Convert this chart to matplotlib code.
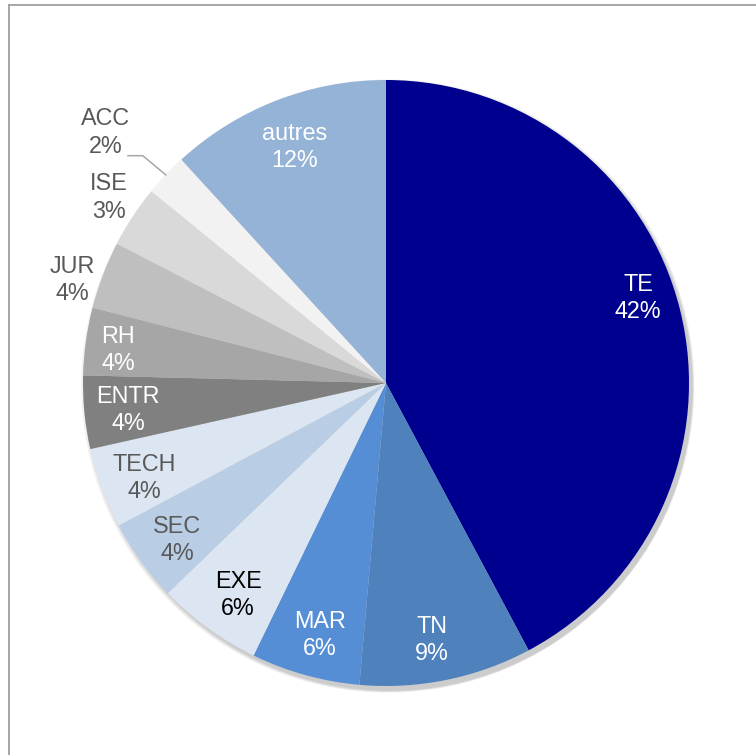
import numpy as np
import matplotlib
matplotlib.use("Agg")
import matplotlib.pyplot as plt
from matplotlib.lines import Line2D
from matplotlib.patches import Circle

# share of each category (clockwise from 12 o'clock)
categories = ["TE", "TN", "MAR", "EXE", "SEC", "TECH", "ENTR", "RH", "JUR", "ISE", "ACC", "autres"]
shares = [42.2, 9.2, 5.8, 5.6, 4.4, 4.3, 3.9, 3.6, 3.6, 3.3, 2.3, 11.8]

colors = ["#00008E", "#4F81BD", "#558ED5", "#DCE6F2", "#B9CDE5", "#DCE6F2",
          "#808080", "#A6A6A6", "#BFBFBF", "#D9D9D9", "#F2F2F2", "#95B3D7"]
text_colors = ["white", "white", "white", "black", "#595959", "#595959",
               "white", "white", "#595959", "#595959", "#595959", "white"]
# label placement: radial distance and small angle nudge (degrees)
label_r = [0.878, 0.862, 0.86, 0.853, 0.862, 0.858, 0.855, 0.89, 1.09, 1.10, 1.24, 0.835]
label_dang = [-4.6, 1.4, -0.8, -1.1, -0.9, -1.1, -0.4, -0.9, -2.7, 0.5, -1.6, 0.1]

plt.rcParams['font.family'] = ['Liberation Sans', 'DejaVu Sans']

W, H = 756, 755
fig = plt.figure(figsize=(W / 100, H / 100), dpi=100)
ax = fig.add_axes([0, 0, 1, 1])

# soft shadow behind the pie
for k, a in enumerate([0.05, 0.05, 0.05, 0.06]):
    ax.add_patch(Circle((0.006 + 0.002 * k, -0.010 - 0.002 * k), 1.0 + 0.004 * (3 - k),
                        color="black", alpha=a, lw=0, zorder=0))

wedges, _ = ax.pie(shares, colors=colors, startangle=90, counterclock=False,
                   radius=1.0, wedgeprops=dict(linewidth=0))
for w in wedges:
    w.set_zorder(2)

cum = np.cumsum([0] + shares[:-1])
for i, (cat, v) in enumerate(zip(categories, shares)):
    mid = (cum[i] + v / 2) * 3.6
    t = np.deg2rad(mid + label_dang[i])
    x, y = label_r[i] * np.sin(t), label_r[i] * np.cos(t)
    ax.text(x, y, f"{cat}\n{v:.0f}%", ha="center", va="center", fontsize=16.8,
            color=text_colors[i], linespacing=1.25, zorder=3)
    if cat == "ACC":
        ex, ey = np.sin(np.deg2rad(mid)), np.cos(np.deg2rad(mid))
        sx, sy = x + 0.073, y - 0.076
        ax.plot([sx, sx + 0.049, ex], [sy, sy, ey], color="#A6A6A6", lw=1.1, zorder=3)

# pixel scale: centre at (386, 383), radius 303 px
cx, cy, R = 386, 383, 303
ax.set_xlim(-cx / R, (W - cx) / R)
ax.set_ylim(-(H - cy) / R, cy / R)
ax.set_aspect("auto")
ax.axis("off")

# chart frame (cut at the right and bottom)
fx, fy = 8.5 / W, 1 - 5 / H
fig.add_artist(Line2D([fx, fx], [0, fy], color="#A0A0A0", lw=1.3))
fig.add_artist(Line2D([fx, 1], [fy, fy], color="#A0A0A0", lw=1.3))

fig.savefig("out.png", dpi=100, facecolor="white")
